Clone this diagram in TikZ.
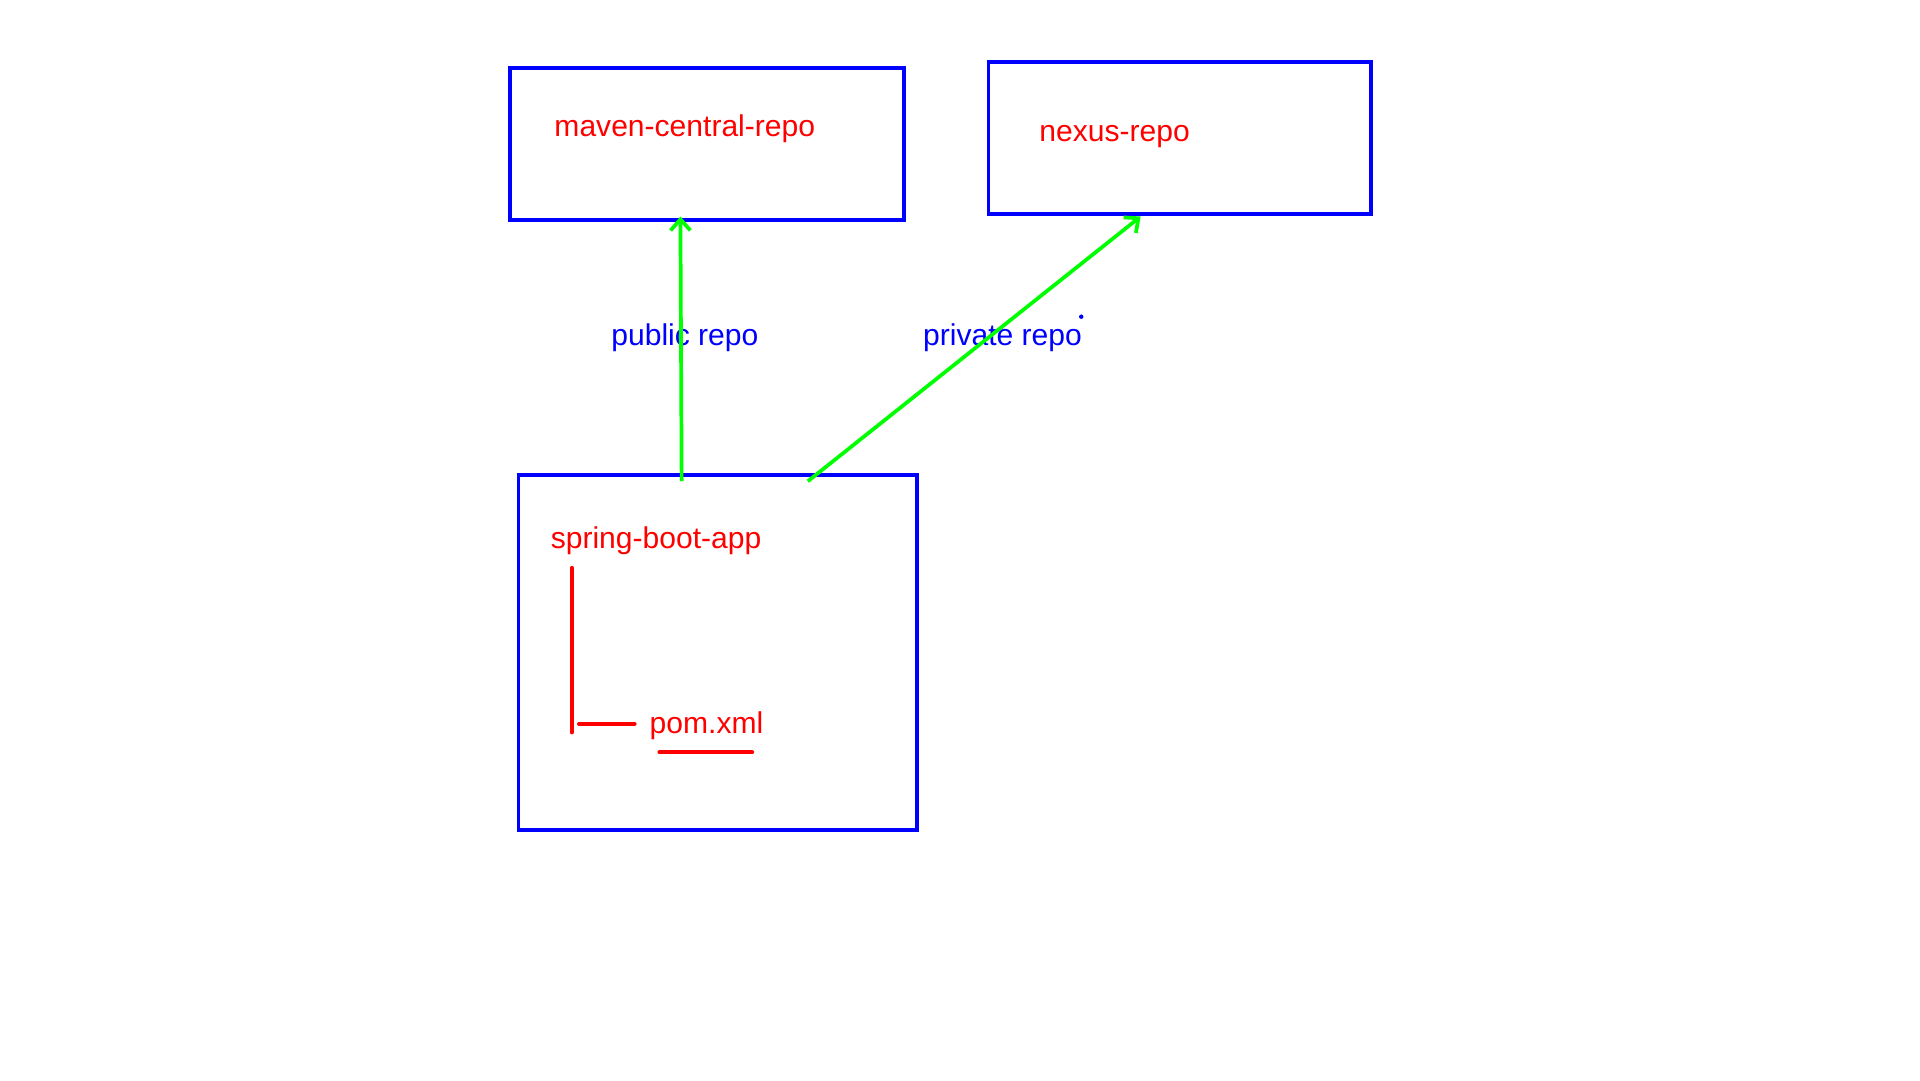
\documentclass[tikz,border=0pt]{standalone}
\usepackage{fontspec}
\setmainfont{Liberation Sans}
\usetikzlibrary{arrows.meta}
\definecolor{bblue}{RGB}{0,0,255}
\definecolor{rred}{RGB}{255,0,0}
\definecolor{ggreen}{RGB}{0,255,0}
\begin{document}
\begin{tikzpicture}[x=1pt,y=-1pt,
  box/.style={draw=bblue, line width=3pt, inner sep=0pt},
  redtxt/.style={text=rred, font=\fontsize{24.3}{28}\selectfont, inner sep=0pt, anchor=west},
  bluetxt/.style={text=bblue, font=\fontsize{24.3}{28}\selectfont, inner sep=0pt, anchor=west},
  conn/.style={draw=ggreen, line width=3pt, -{Straight Barb[length=9pt,width=16pt,line width=3pt]}},
  tree/.style={draw=rred, line width=3.2pt, line cap=round}]
\useasboundingbox (0,0) rectangle (1552,873);
\fill[white] (0,0) rectangle (1552,873);
% boxes
\node[box, minimum width=319pt, minimum height=123pt] (maven) at (571.5,116.5) {};
\node[box, minimum width=309pt, minimum height=123pt] (nexus) at (953.5,111.5) {};
\node[box, minimum width=322pt, minimum height=287pt] (app) at (580,527.5) {};
% texts
\node[redtxt] (mavent) at (448,104) {maven-central-repo};
\node[redtxt] (nexust) at (840,110) {nexus-repo};
\node[redtxt] (appt) at (445,437) {spring-boot-app};
\node[redtxt] (pom) at (525,587) {pom.xml};
\node[bluetxt] (pub) at (494,273) {public repo};
\node[bluetxt] (priv) at (746,273) {private repo};
% connector end points
\coordinate (s1) at (551,389);
\coordinate (e1) at (550,175);
\coordinate (s2) at (653,389);
\coordinate (e2) at (922,175);
\draw[conn] (s1) -- (e1);
\draw[conn] (s2) -- (e2);
% tree lines
\coordinate (t1) at (462,459);
\coordinate (t2) at (462,592);
\coordinate (h1) at (468,585);
\coordinate (h2) at (513,585);
\coordinate (u1) at (533,608);
\coordinate (u2) at (608,608);
\draw[tree] (t1) -- (t2);
\draw[tree] (h1) -- (h2);
\draw[tree] (u1) -- (u2);
% dot
\fill[bblue] (874,256) circle (1.8pt);
\end{tikzpicture}
\end{document}
